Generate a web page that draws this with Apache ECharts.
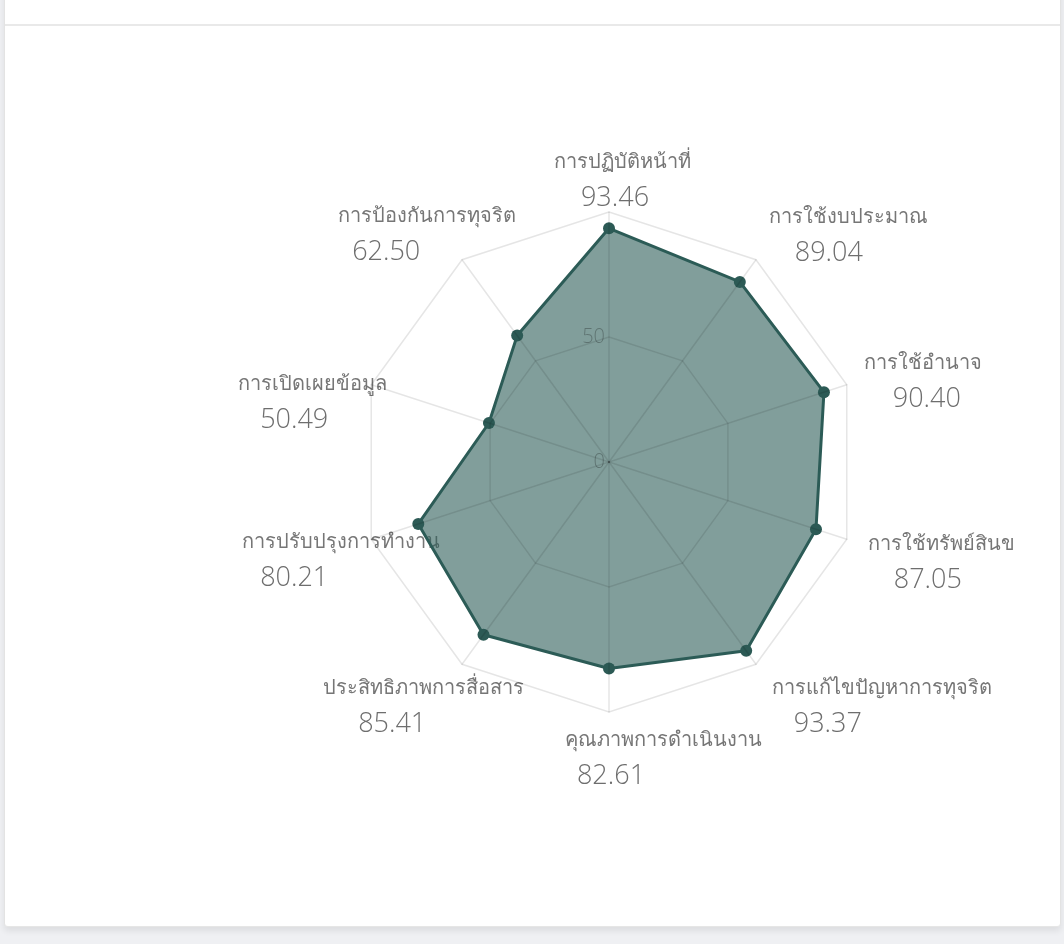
<!DOCTYPE html>
<html>
<head>
<meta charset="utf-8">
<script src="https://cdn.jsdelivr.net/npm/echarts@6/dist/echarts.min.js"></script>
<style>
  html, body { margin: 0; padding: 0; width: 1064px; height: 944px; background: #eff0f3; overflow: hidden; }
  #card { position: absolute; left: 4px; top: -10px; width: 1055px; height: 936px; background: #fff;
          border-left: 1px solid #e3e3e3; border-right: 1px solid #e3e3e3; border-bottom: 1px solid #e6e6e6;
          box-shadow: 0 4px 6px rgba(0,0,0,0.08); border-radius: 0 0 4px 4px; }
  #hdr { position: absolute; left: 5px; top: 24px; width: 1055px; height: 2px; background: #e9e9e9; }
  #chart { position: absolute; left: 0; top: 0; width: 1064px; height: 944px; }
</style>
</head>
<body>
<div id="card"></div>
<div id="hdr"></div>
<div id="chart"></div>
<script>
// Indicators listed counter-clockwise from the top (ECharts radar order)
const indicatorNames = [
  'การปฏิบัติหน้าที่',
  'การป้องกันการทุจริต',
  'การเปิดเผยข้อมูล',
  'การปรับปรุงการทำงาน',
  'ประสิทธิภาพการสื่อสาร',
  'คุณภาพการดำเนินงาน',
  'การแก้ไขปัญหาการทุจริต',
  'การใช้ทรัพย์สินข',
  'การใช้อำนาจ',
  'การใช้งบประมาณ'
];
const scores = [93.46, 62.50, 50.49, 80.21, 85.41, 82.61, 93.37, 87.05, 90.40, 89.04];
const axisMax = 100;
const axisSplits = 2;

// label offsets (style only): [name padL, name padR, value padL, value padR, spacer top, spacer bottom]
const labelOffsets = [
  [26, 0, 12, 0, 0, 44],
  [0, 58, 0, 140, 0, 34],
  [0, 99, 0, 135, 41, 0],
  [0, 41, 0, 135, 36, 0],
  [0, 66, 0, 128, 68, 0],
  [108, 0, 4, 0, 72, 0],
  [240, 0, 132, 0, 67, 0],
  [171, 0, 143, 0, 39, 0],
  [133, 0, 141, 0, 0, 0],
  [174, 0, 134, 0, 0, 32]
];

const rich = {};
labelOffsets.forEach(function (o, i) {
  rich['n' + i] = { fontSize: 20, lineHeight: 36, color: '#767676', fontWeight: 300,
                    fontFamily: "'Noto Sans', 'Open Sans', sans-serif", padding: [0, o[1], 0, o[0]] };
  rich['v' + i] = { fontSize: 27, lineHeight: 36, color: '#6e6e6e', fontWeight: 300,
                    fontFamily: "'Open Sans', 'Noto Sans', sans-serif", padding: [0, o[3], 0, o[2]] };
  rich['t' + i] = { fontSize: 2, lineHeight: Math.max(o[4], 1) };
  rich['b' + i] = { fontSize: 2, lineHeight: Math.max(o[5], 1) };
});

const nameIndicators = indicatorNames.map(function (n) {
  return { name: n, min: 0, max: axisMax };
});
const gridIndicators = indicatorNames.map(function (n, i) {
  const ind = { name: n, min: 0, max: axisMax };
  if (i === 0) ind.axisLabel = { show: true };
  return ind;
});

const lineColor = 'rgba(0,0,0,0.1)';
const chart = echarts.init(document.getElementById('chart'), null, { renderer: 'canvas' });
chart.setOption({
  animation: false,
  radar: [{
    // names layer (below the filled area)
    z: 1,
    center: [609, 462],
    radius: 250,
    startAngle: 90,
    splitNumber: axisSplits,
    shape: 'polygon',
    indicator: nameIndicators,
    nameGap: 10,
    axisName: {
      align: 'center',
      verticalAlign: 'middle',
      rich: rich,
      formatter: function (name) {
        const i = indicatorNames.indexOf(name);
        const o = labelOffsets[i];
        let s = '';
        if (o[4] > 0) s += '{t' + i + '| }\n';
        s += '{n' + i + '|' + name + '}\n{v' + i + '|' + scores[i].toFixed(2) + '}';
        if (o[5] > 0) s += '\n{b' + i + '| }';
        return s;
      }
    },
    axisLine: { show: false },
    splitLine: { show: false },
    splitArea: { show: false },
    axisTick: { show: false },
    axisLabel: { show: false }
  }, {
    // grid layer (above the filled area)
    z: 3,
    center: [609, 462],
    radius: 250,
    startAngle: 90,
    splitNumber: axisSplits,
    shape: 'polygon',
    indicator: gridIndicators,
    axisName: { show: false },
    axisLine: { show: true, lineStyle: { color: lineColor, width: 1.5 } },
    splitLine: { show: true, lineStyle: { color: lineColor, width: 1.5 } },
    splitArea: { show: false },
    axisTick: { show: false },
    axisLabel: { show: false, showMaxLabel: false, margin: 4, fontSize: 20, color: 'rgba(0,0,0,0.27)',
                 fontFamily: "'Open Sans', sans-serif", fontWeight: 300 }
  }],
  series: [{
    type: 'radar',
    radarIndex: 0,
    z: 2,
    symbol: 'circle',
    symbolSize: 12,
    lineStyle: { color: '#2c5b56', width: 3 },
    itemStyle: { color: '#2c5a55' },
    areaStyle: { color: 'rgba(45, 94, 88, 0.6)', opacity: 1 },
    data: [{ value: scores, name: 'score' }]
  }]
});
</script>
</body>
</html>
